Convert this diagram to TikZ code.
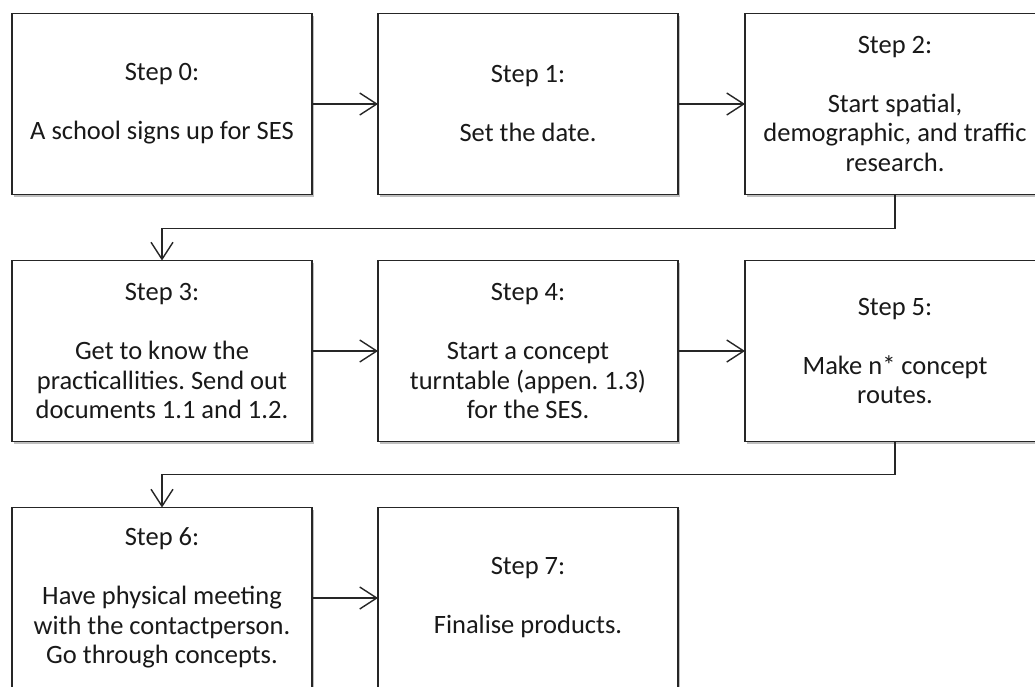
\documentclass[tikz,border=0pt]{standalone}
\usepackage{fontspec}
\setmainfont{Carlito}
\frenchspacing
\usetikzlibrary{arrows.meta,shadows}
\begin{document}
\begin{tikzpicture}[x=1pt,y=-1pt,
  stepbox/.style={draw=black!85, line width=1.6pt, minimum width=300pt, minimum height=181pt,
    inner sep=0pt, outer sep=0pt, align=center, fill=white, text=black!90,
    font={\fontsize{26.5}{29.5}\selectfont\frenchspacing},
    drop shadow={shadow xshift=1.5pt, shadow yshift=-2pt, opacity=0.25, fill=black}},
  arr/.style={draw=black!85, line width=1.4pt, -{Straight Barb[length=17pt,width=22pt,line width=1.4pt]}}
]
\useasboundingbox (0,0) rectangle (1035,686);
\clip (0,0) rectangle (1035,686);
\fill[white] (0,0) rectangle (1035,686);
\node[stepbox] (b0) at (162,104) {Step 0:\\[29.5pt]A school signs up for SES};
\node[stepbox] (b1) at (528,104) {Step 1:\\[29.5pt]Set the date.};
\node[stepbox] (b2) at (895,104) {Step 2:\\[29.5pt]Start spatial,\\demographic, and traffic\\research.};
\node[stepbox] (b3) at (162,351) {Step 3:\\[29.5pt]Get to know the\\practicallities. Send out\\documents 1.1 and 1.2.};
\node[stepbox] (b4) at (528,351) {Step 4:\\[29.5pt]Start a concept\\turntable (appen. 1.3)\\for the SES.};
\node[stepbox] (b5) at (895,351) {Step 5:\\[29.5pt]Make n* concept\\routes.};
\node[stepbox] (b6) at (162,598) {Step 6:\\[29.5pt]Have physical meeting\\with the contactperson.\\Go through concepts.};
\node[stepbox] (b7) at (528,598) {Step 7:\\[29.5pt]Finalise products.};
\draw[arr] (b0) -- (b1);
\draw[arr] (b1) -- (b2);
\draw[arr] (b3) -- (b4);
\draw[arr] (b4) -- (b5);
\draw[arr] (b6) -- (b7);
\draw[arr] (b2.south) -- ++(0,34) -| (b3.north);
\draw[arr] (b5.south) -- ++(0,33) -| (b6.north);
\end{tikzpicture}
\end{document}
